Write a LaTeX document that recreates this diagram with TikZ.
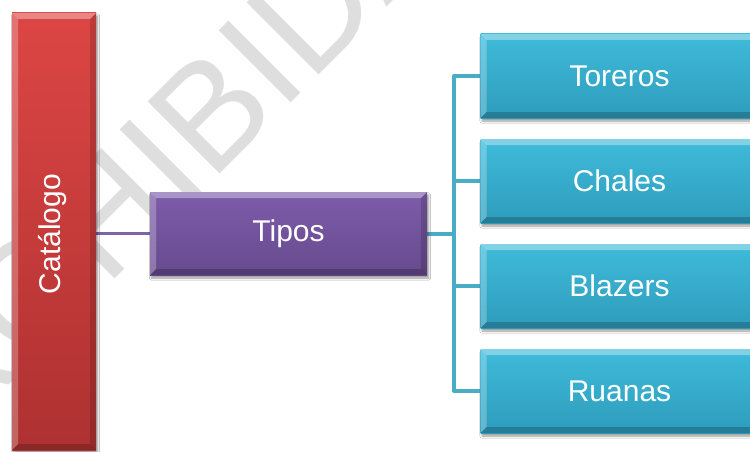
\documentclass[tikz,border=0pt]{standalone}
\usepackage{fontspec}
\setmainfont{Liberation Sans}
\usetikzlibrary{shadows.blur,backgrounds}
\definecolor{redT}{HTML}{DC4644}
\definecolor{redB}{HTML}{AE3131}
\definecolor{purT}{HTML}{7D5CAA}
\definecolor{purB}{HTML}{674A8E}
\definecolor{tealT}{HTML}{3FBBDA}
\definecolor{tealB}{HTML}{2E9CBC}
\definecolor{tealLine}{HTML}{4BACC6}
\definecolor{purLine}{HTML}{7E63A9}
\definecolor{wm}{HTML}{DEDEDE}
\tikzset{
 bevel/.style={path picture={
  \fill[white,opacity=0.35] (path picture bounding box.north west) -- (path picture bounding box.north east) -- ([xshift=-6pt,yshift=-6pt]path picture bounding box.north east) -- ([xshift=6pt,yshift=-6pt]path picture bounding box.north west) -- cycle;
  \fill[white,opacity=0.25] (path picture bounding box.north west) -- ([xshift=6pt,yshift=-6pt]path picture bounding box.north west) -- ([xshift=6pt,yshift=6pt]path picture bounding box.south west) -- (path picture bounding box.south west) -- cycle;
  \fill[black,opacity=0.15] (path picture bounding box.north east) -- ([xshift=-6pt,yshift=-6pt]path picture bounding box.north east) -- ([xshift=-6pt,yshift=6pt]path picture bounding box.south east) -- (path picture bounding box.south east) -- cycle;
  \fill[black,opacity=0.2] (path picture bounding box.south west) -- ([xshift=6pt,yshift=6pt]path picture bounding box.south west) -- ([xshift=-6pt,yshift=6pt]path picture bounding box.south east) -- (path picture bounding box.south east) -- cycle;
 }},
 box/.style={rectangle, inner sep=0pt, outer sep=0pt, bevel,
   blur shadow={shadow xshift=1.5pt, shadow yshift=-3pt, shadow blur steps=6, shadow opacity=40},
   text=white, font=\fontsize{30}{36}\selectfont},
 redbox/.style={box, top color=redT, bottom color=redB, minimum width=84pt, minimum height=437pt},
 purbox/.style={box, top color=purT, bottom color=purB, minimum width=277pt, minimum height=83pt},
 tealbox/.style={box, top color=tealT, bottom color=tealB, minimum width=278pt, minimum height=84pt},
 boxtext/.style={text=white, font=\fontsize{30}{36}\selectfont, inner sep=0pt},
 tline/.style={draw=tealLine, line width=4pt, line join=round},
 pline/.style={draw=purLine, line width=3.5pt},
 watermark/.style={text=wm, font=\fontsize{148}{148}\selectfont, inner sep=0pt}
}
\begin{document}
\begin{tikzpicture}[x=1pt,y=-1pt]
\useasboundingbox (0,0) rectangle (750,452);
\clip (0,0) rectangle (750,452);
\node[redbox] (cat) at (54,231.5) {};
\node[purbox] (tipos) at (288.5,233.5) {};
\node[tealbox] (toreros) at (619.5,76) {};
\node[tealbox] (chales) at (619.5,181) {};
\node[tealbox] (blazers) at (619.5,286) {};
\node[tealbox] (ruanas) at (619.5,391) {};
\coordinate (br) at (454,233.5);
\node[boxtext, rotate=90] (catt) at (53,234) {Catálogo};
\node[boxtext] (tipost) at (tipos.center) {Tipos};
\node[boxtext] (torerost) at (toreros.center) {Toreros};
\node[boxtext] (chalest) at (chales.center) {Chales};
\node[boxtext] (blazerst) at (blazers.center) {Blazers};
\node[boxtext] (ruanast) at (ruanas.center) {Ruanas};
\begin{pgfonlayer}{background}
\fill[white] (0,0) rectangle (750,452);
\node[watermark, rotate=45] (wmk) at (132,190) {PROHIBIDA};
\draw[pline] (tipos.west -| cat.east) -- (tipos.west);
\draw[tline] (tipos.east) -- (br);
\draw[tline] (br) |- (toreros.west);
\draw[tline] (br) |- (chales.west);
\draw[tline] (br) |- (blazers.west);
\draw[tline] (br) |- (ruanas.west);
\end{pgfonlayer}
\end{tikzpicture}
\end{document}
